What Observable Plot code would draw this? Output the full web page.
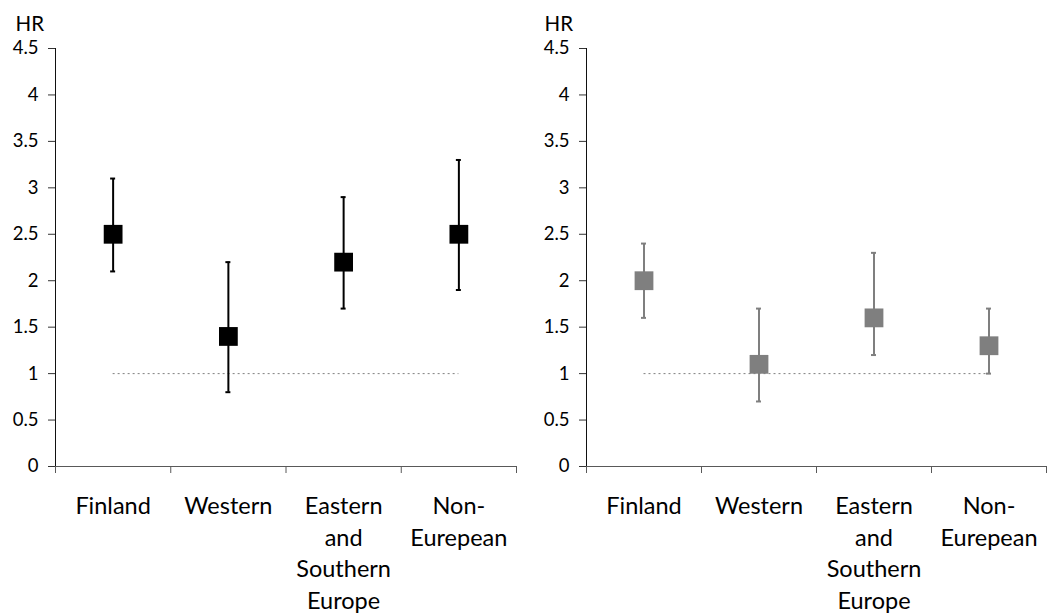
<!DOCTYPE html>
<html><head><meta charset="utf-8">
<script src="https://cdn.jsdelivr.net/npm/d3@7"></script>
<script src="https://cdn.jsdelivr.net/npm/@observablehq/plot@0.6"></script>
<style>
body{margin:0;background:#fff;}
#wrap{position:relative;width:1047px;height:616px;overflow:hidden;}
#wrap svg{position:absolute;top:0;}
</style></head><body><div id="wrap"></div>
<script>
const categories = ["Finland", "Western", "Eastern\nand\nSouthern\nEurope", "Non-\nEurepean"];
const hrLeft = [2.5, 1.4, 2.2, 2.5];
const lowLeft = [2.1, 0.8, 1.7, 1.9];
const highLeft = [3.1, 2.2, 2.9, 3.3];
const hrRight = [2.0, 1.1, 1.6, 1.3];
const lowRight = [1.6, 0.7, 1.2, 1.0];
const highRight = [2.4, 1.7, 2.3, 1.7];
const yTicks = [0, 0.5, 1, 1.5, 2, 2.5, 3, 3.5, 4, 4.5];
const yDomain = [0, 4.5];
const refLine = 1;
const yLabel = "HR";

function panel(hr, lo, hi, color, opts) {
  const data = categories.map((c, i) => ({pos: i + 0.5, name: c, hr: hr[i], lo: lo[i], hi: hi[i]}));
  const positions = data.map(d => d.pos);
  const bounds = d3.range(categories.length + 1);
  const svg = Plot.plot({
    width: opts.width, height: 616,
    marginLeft: opts.ml, marginRight: opts.mr, marginTop: 48, marginBottom: 150,
    style: {fontFamily: "Lato, sans-serif", fontSize: "18.5px", color: "#000", background: "transparent", overflow: "visible"},
    x: {type: "linear", domain: [0, categories.length]},
    y: {domain: yDomain},
    marks: [
      Plot.ruleY([refLine], {x1: positions[0], x2: positions[positions.length - 1], stroke: "#7f7f7f", strokeDasharray: "2,3"}),
      Plot.ruleX([0], {stroke: "#111"}),
      Plot.ruleY([0], {stroke: "#595959"}),
      Plot.axisY({ticks: yTicks, tickSize: 7, tickPadding: 10, tickFormat: d => String(d), label: null, stroke: "#333"}),
      Plot.axisX({ticks: bounds, tickSize: 7, tickFormat: () => "", label: null, stroke: "#595959"}),
      Plot.axisX({ticks: positions, tickSize: 0, tickPadding: 25, tickFormat: p => categories[Math.floor(p)], label: null, fontSize: 23.5, lineHeight: 1.35}),
      Plot.ruleX(data, {x: "pos", y1: "lo", y2: "hi", stroke: color, strokeWidth: 2}),
      Plot.ruleY(data, {x1: "pos", x2: "pos", y: "lo", stroke: color, strokeWidth: 2, insetLeft: -2.5, insetRight: -2.5}),
      Plot.ruleY(data, {x1: "pos", x2: "pos", y: "hi", stroke: color, strokeWidth: 2, insetLeft: -2.5, insetRight: -2.5}),
      Plot.dot(data, {x: "pos", y: "hr", symbol: "square", r: 10.6, fill: color, stroke: "none"}),
      Plot.text([yLabel], {text: d => d, frameAnchor: "top-left", dx: opts.hrdx, dy: -24, textAnchor: "start", lineAnchor: "middle", fontSize: 20.5})
    ]
  });
  svg.style.left = opts.left + "px";
  return svg;
}

const wrap = document.getElementById("wrap");
wrap.appendChild(panel(hrLeft, lowLeft, highLeft, "#000000", {width: 523, ml: 55, mr: 7, left: 0, hrdx: -40}));
wrap.appendChild(panel(hrRight, lowRight, highRight, "#7f7f7f", {width: 524, ml: 63, mr: 1, left: 523, hrdx: -42}));
</script>
</body></html>
